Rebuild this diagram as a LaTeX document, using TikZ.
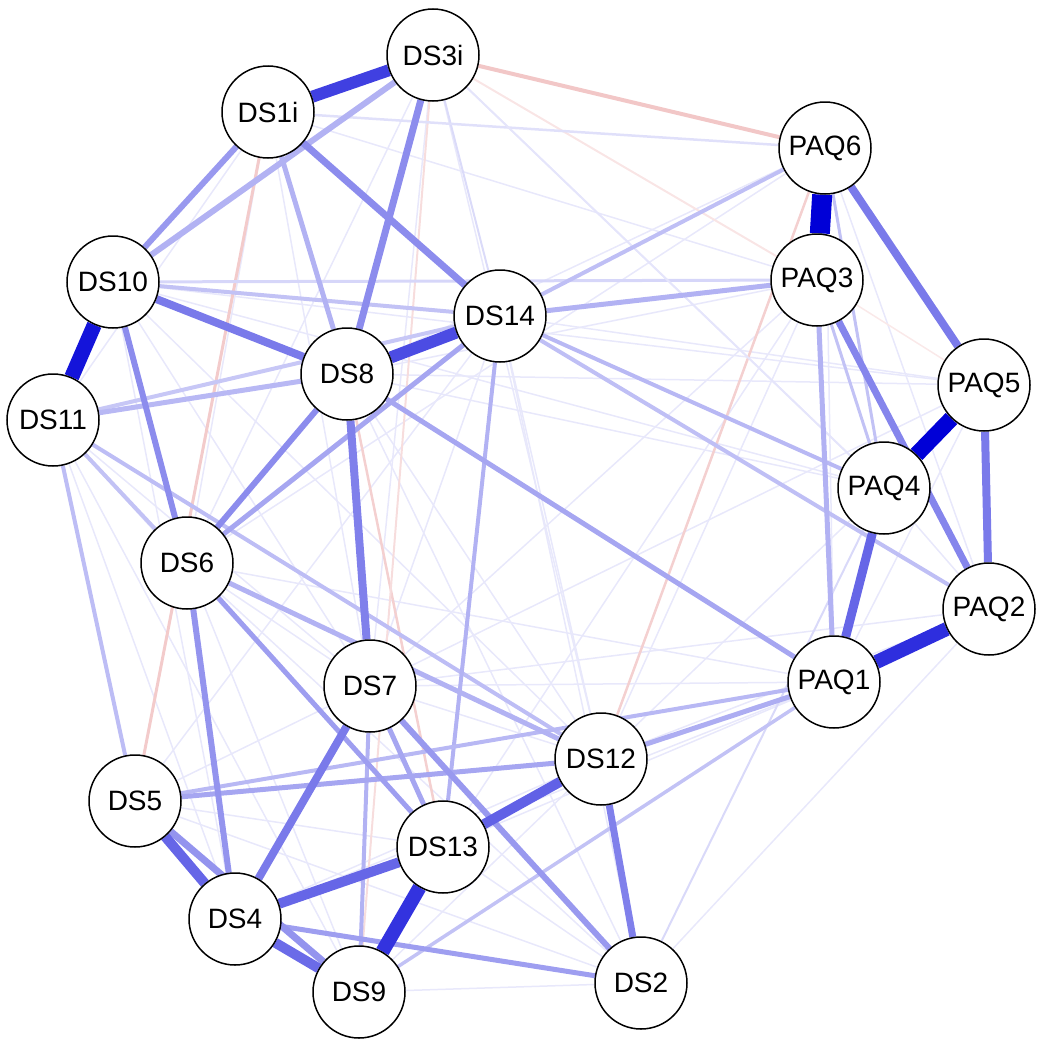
\documentclass[tikz,border=0pt]{standalone}
\usepackage{fontspec}
\setmainfont{Liberation Sans}
\usetikzlibrary{backgrounds}
\definecolor{qb}{RGB}{0,0,215}
\definecolor{qr}{RGB}{205,40,40}
\tikzset{
  var/.style={circle, draw=black, line width=0.75pt, fill=white, minimum size=46pt, inner sep=0pt, font=\fontsize{14}{16}\selectfont},
  qedge/.style={line cap=butt},
}
\begin{document}
\begin{tikzpicture}[x=0.5pt,y=-0.5pt]
\useasboundingbox (0,0) rectangle (1044,1044);
\node[var] (DS3i) at (433,55) {DS3i};
\node[var] (DS1i) at (268,112) {DS1i};
\node[var] (PAQ6) at (825,148) {PAQ6};
\node[var] (DS10) at (113,282) {DS10};
\node[var] (PAQ3) at (817,280) {PAQ3};
\node[var] (DS14) at (500,316) {DS14};
\node[var] (DS8) at (347,374) {DS8};
\node[var] (DS11) at (53,420) {DS11};
\node[var] (PAQ5) at (984,385) {PAQ5};
\node[var] (PAQ4) at (884,488) {PAQ4};
\node[var] (DS6) at (187,563) {DS6};
\node[var] (PAQ2) at (989,609) {PAQ2};
\node[var] (PAQ1) at (834,682) {PAQ1};
\node[var] (DS7) at (370,686) {DS7};
\node[var] (DS12) at (601,759) {DS12};
\node[var] (DS5) at (135,801) {DS5};
\node[var] (DS13) at (443,847) {DS13};
\node[var] (DS4) at (235,919) {DS4};
\node[var] (DS9) at (359,992) {DS9};
\node[var] (DS2) at (641,983) {DS2};
\begin{scope}[on background layer]
% faint mesh
\foreach \a/\b in {DS11/DS4,DS11/DS9,DS11/DS13,DS11/DS7,DS10/DS7,DS10/DS4,DS10/DS12,DS10/PAQ4,DS10/PAQ5,DS1i/DS6,DS1i/DS7,DS1i/PAQ3,DS3i/PAQ4,DS3i/DS7,DS3i/DS12,DS14/DS7,DS14/DS12,DS14/DS5,DS14/DS2,DS8/DS12,DS8/DS2,DS8/PAQ3,DS8/PAQ4,DS6/DS7,DS6/DS2,DS6/DS9,DS6/PAQ1,DS7/DS12,DS7/PAQ1,DS7/PAQ3,DS5/DS13,DS5/DS2,DS5/DS7,DS4/DS12,DS4/PAQ1,DS13/PAQ1,DS13/DS2,DS9/DS12,DS9/DS2,DS12/PAQ4,DS12/PAQ3,DS13/PAQ3,PAQ6/DS8,PAQ6/DS6,PAQ5/DS8,PAQ5/DS14,PAQ5/DS7,PAQ2/DS7,PAQ2/DS12,DS3i/DS6,DS1i/DS11,PAQ6/PAQ2,PAQ6/PAQ1,PAQ5/PAQ1,PAQ4/PAQ2,DS2/PAQ2}
  \draw[qedge, line width=0.75pt, draw=qb!9!white] (\a) -- (\b);
% red (negative) edges
\foreach \a/\b/\w/\p in {DS3i/PAQ6/4/26,DS1i/DS5/3/24,DS8/DS13/2.5/22,DS3i/DS9/2/16,PAQ6/DS12/2.5/22,DS3i/PAQ3/2/12,PAQ3/PAQ5/1.5/10}
  \draw[qedge, line width=\w*0.5pt, draw=qr!\p!white] (\a) -- (\b);
% positive edges
\foreach \a/\b/\w/\p in {
  DS3i/DS14/2/14,DS1i/PAQ6/2.5/12,DS10/PAQ3/3/16,DS3i/PAQ4/2/10,DS2/PAQ4/2/15,
  PAQ6/PAQ4/3/24,PAQ3/PAQ4/3/24,
  DS11/DS14/4/22,DS11/DS5/4/26,DS11/DS6/4/24,DS11/DS12/4/26,DS10/DS14/4/24,
  DS14/DS13/4/30,DS14/PAQ6/4/25,DS14/PAQ4/4/28,DS14/PAQ2/4/25,DS7/DS9/4/30,
  DS5/PAQ1/4/28,DS9/PAQ1/3.5/24,
  DS12/DS5/5/35,DS8/PAQ1/5/35,DS1i/DS8/5/30,DS11/DS8/5/28,DS14/PAQ3/5/30,
  DS12/PAQ1/5/32,PAQ3/PAQ1/5/30,DS14/DS6/5/35,DS6/DS13/5/38,DS6/DS12/5/30,
  DS7/DS13/5/35,DS4/DS2/5/38,
  DS10/DS6/6/45,DS8/DS6/6/45,DS6/DS4/6/42,DS7/DS2/6/40,DS1i/DS10/6/40,DS3i/DS10/6/30,
  DS3i/DS8/7/45,DS1i/DS14/7/45,DS12/DS2/7/50,DS5/DS9/7/42,PAQ3/PAQ2/7/48,
  DS4/DS7/8/52,DS7/DS8/8/50,PAQ5/PAQ2/8/52,PAQ6/PAQ5/8/52,DS10/DS8/8/52,
  PAQ4/PAQ1/9/60,
  DS12/DS13/10/62,DS5/DS4/10/60,DS4/DS9/10/58,DS4/DS13/10/60,
  DS1i/DS3i/12/75,DS8/DS14/12/70,
  PAQ1/PAQ2/14/82,DS13/DS9/14/80,
  DS10/DS11/15/92,PAQ5/PAQ4/16/100,PAQ6/PAQ3/20/100}
  \draw[qedge, line width=\w*0.5pt, draw=qb!\p!white] (\a) -- (\b);
\end{scope}
\end{tikzpicture}
\end{document}
